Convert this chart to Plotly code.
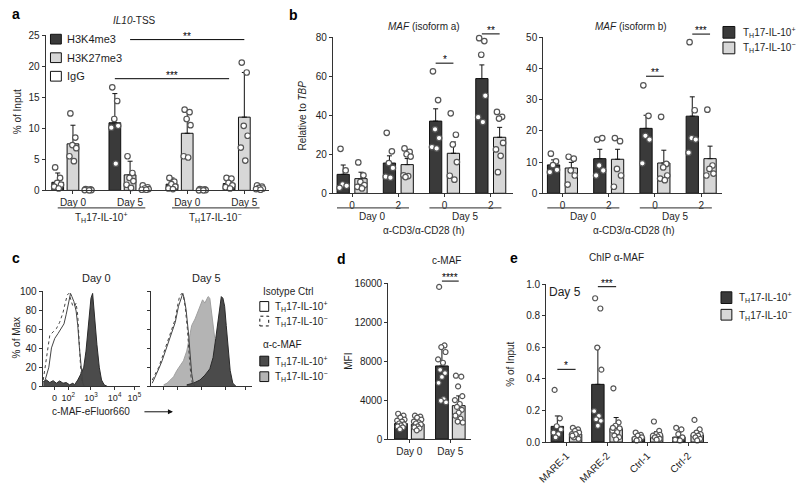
import plotly.graph_objects as go

# ------------------------------------------------------------------ data
TH_POS = "T<sub>H</sub>17-IL-10<sup>+</sup>"
TH_NEG = "T<sub>H</sub>17-IL-10<sup>−</sup>"

# panel a : IL10-TSS ChIP (% of input)
a_days = ["Day 0", "Day 5", "Day 0", "Day 5"]
a_cells = [TH_POS, TH_NEG]
a_marks = ["H3K4me3", "H3K27me3", "IgG"]
a_k4_mean = [1.3, 10.9, 1.0, 1.1]
a_k4_sd = [1.5, 4.7, 1.0, 0.9]
a_k4_pts = [[3.7, 2.0, 1.2, 0.9, 0.6, 0.3], [16.6, 14.4, 11.5, 10.4, 10.1, 4.3],
            [2.0, 1.4, 1.0, 0.6, 0.3, 0.2], [2.0, 1.9, 1.2, 0.8, 0.5, 0.3]]
a_k27_mean = [7.5, 2.5, 9.2, 11.8]
a_k27_sd = [3.0, 2.2, 3.6, 7.2]
a_k27_pts = [[12.4, 8.5, 7.3, 6.8, 5.5, 4.7], [5.5, 2.8, 2.0, 1.5, 0.9, 0.4],
             [13.0, 12.6, 11.5, 10.5, 5.5, 5.3], [20.6, 19.0, 10.4, 8.8, 6.9, 4.8]]
a_igg_mean = [0.1, 0.3, 0.1, 0.4]
a_igg_sd = [0.1, 0.3, 0.1, 0.3]
a_igg_pts = [[0.2, 0.15, 0.1, 0.05, 0.05, 0.0], [0.8, 0.5, 0.3, 0.2, 0.1, 0.1],
             [0.2, 0.15, 0.1, 0.05, 0.0, 0.0], [0.8, 0.6, 0.4, 0.3, 0.2, 0.1]]
# (mark index, group from, group to, stars, height)
a_sig = [(0, 1, 3, "***", 18.0), (1, 1, 3, "**", 24.3)]

# panel b : MAF expression relative to TBP
b_hours = ["0", "2", "0", "2"]
b_days = ["Day 0", "Day 5"]
ba_pos_mean = [9.7, 15.5, 37.0, 58.8]
ba_pos_sem = [4.8, 3.7, 6.3, 7.0]
ba_pos_pts = [[22.8, 11.7, 4.5, 3.8, 2.8], [31.0, 21.5, 15.5, 13.0, 8.5, 8.0],
              [62.5, 47.8, 32.8, 28.3, 23.7, 23.0], [79.5, 78.0, 71.0, 50.0, 39.0, 36.5]]
ba_neg_mean = [7.5, 14.7, 20.5, 28.7]
ba_neg_sem = [3.3, 3.1, 5.8, 5.1]
ba_neg_pts = [[15.8, 9.2, 5.8, 4.2, 3.3, 2.5], [23.0, 21.2, 20.0, 18.8, 9.2, 8.8, 8.3],
              [41.0, 30.0, 25.0, 16.0, 9.0, 7.0], [41.7, 39.2, 38.3, 25.8, 22.5, 19.2, 10.8]]
ba_sig = [(2, "*", 66.7), (3, "**", 81.7)]

bb_pos_mean = [9.1, 11.1, 20.8, 24.7]
bb_pos_sem = [1.6, 3.0, 4.2, 6.2]
bb_pos_pts = [[12.7, 10.2, 9.0, 7.5, 6.8], [17.2, 17.7, 8.9, 7.3, 5.7],
              [34.6, 24.8, 18.4, 17.2, 9.6], [48.4, 26.6, 17.7, 17.2, 13.0]]
bb_neg_mean = [8.1, 10.9, 9.7, 11.1]
bb_neg_sem = [1.8, 3.2, 4.1, 4.0]
bb_neg_pts = [[11.7, 11.1, 7.3, 5.7, 2.8], [17.7, 16.7, 7.8, 5.7, 2.1],
              [24.5, 9.4, 8.3, 5.7, 4.7, 4.2], [26.8, 8.9, 7.8, 6.3, 5.7]]
bb_sig = [(2, "**", 37.5), (3, "***", 51.0)]

# panel c : c-MAF histograms (channel position 0-100, % of max)
c_tickvals = [12.1, 26.3, 49.5, 73.7, 93.9]
c_ticktext = ["0", "10<sup>2</sup>", "10<sup>3</sup>", "10<sup>4</sup>", "10<sup>5</sup>"]
c0_iso_pos_x = [1.7, 3.7, 6.4, 9.1, 12.5, 15.8, 19.2, 21.9, 24.2, 26.6, 28.6, 30.0, 32.0, 34.3, 36.0, 37.7, 39.4, 41.1, 42.8]
c0_iso_pos_y = [3.4, 10.2, 20.3, 40.7, 50.8, 55.9, 61.0, 66.1, 76.3, 88.1, 98.3, 94.9, 89.8, 79.7, 64.4, 40.7, 16.9, 3.4, 0.0]
c0_iso_neg_x = [0.7, 3.0, 5.1, 7.4, 10.8, 14.1, 17.5, 20.9, 23.2, 25.3, 26.9, 28.6, 31.0, 32.7, 34.3, 36.0, 37.0, 38.7, 40.1]
c0_iso_neg_y = [6.8, 23.7, 40.7, 54.2, 57.6, 61.0, 67.8, 78.0, 88.1, 96.6, 98.3, 91.5, 84.7, 84.7, 88.1, 74.6, 50.8, 23.7, 3.4]
c0_maf_pos_x = [0.7, 4.0, 7.4, 10.8, 14.1, 17.5, 20.9, 24.2, 27.6, 31.0, 32.7, 36.0, 39.4, 42.1, 44.4, 46.1, 47.8,
                49.5, 51.2, 52.2, 53.5, 55.6, 58.0, 60.3, 63.0, 66.3]
c0_maf_pos_y = [5.1, 6.8, 4.1, 6.1, 3.4, 5.8, 3.4, 4.1, 1.7, 3.4, 1.7, 6.8, 13.6, 20.3, 37.3, 54.2, 74.6,
                93.2, 98.3, 84.7, 67.8, 44.1, 20.3, 6.8, 1.7, 0.0]
c5_iso_pos_x = [1.0, 4.2, 7.5, 10.8, 14.1, 17.3, 20.6, 23.9, 27.1, 29.4, 31.4, 32.7, 34.6, 36.9, 38.6, 40.2, 41.8, 43.5]
c5_iso_pos_y = [3.4, 10.2, 18.6, 27.1, 37.3, 47.5, 57.6, 67.8, 84.7, 93.2, 98.3, 93.2, 81.4, 57.6, 33.9, 13.6, 3.4, 0.0]
c5_iso_neg_x = [1.0, 4.2, 7.5, 10.8, 14.1, 17.3, 20.6, 23.9, 26.1, 28.1, 30.4, 32.0, 33.7, 35.9, 37.9, 39.5, 41.2]
c5_iso_neg_y = [6.8, 13.6, 20.3, 30.5, 40.7, 50.8, 61.0, 71.2, 84.7, 94.9, 98.3, 94.9, 84.7, 61.0, 30.5, 10.2, 1.7]
c5_maf_neg_x = [12.4, 15.7, 19.0, 22.2, 25.5, 28.8, 32.0, 35.3, 37.9, 40.2, 43.5, 45.8, 48.4, 51.0, 53.3, 54.9,
                56.5, 58.2, 60.8, 63.1, 66.3, 69.6, 72.9, 76.1, 78.4]
c5_maf_neg_y = [1.7, 3.4, 6.8, 10.2, 16.9, 22.0, 27.1, 37.3, 50.8, 64.4, 71.2, 78.0, 84.7, 91.5, 88.1, 91.5,
                94.9, 93.2, 67.8, 50.8, 33.9, 23.7, 10.2, 1.7, 0.0]
c5_maf_pos_x = [35.3, 41.8, 48.4, 53.3, 58.2, 61.4, 64.1, 66.3, 68.0, 69.6, 71.2, 72.9, 74.5, 76.1, 78.4, 81.0, 84.3]
c5_maf_pos_y = [1.7, 3.4, 6.8, 11.9, 18.6, 30.5, 50.8, 67.8, 84.7, 94.9, 93.2, 84.7, 64.4, 40.7, 16.9, 3.4, 0.0]

# panel d : c-MAF MFI
d_days = ["Day 0", "Day 5"]
d_pos_mean = [1600, 7500]
d_pos_sd = [570, 1930]
d_pos_pts = [[2600, 2400, 2200, 2000, 1900, 1800, 1600, 1500, 1400, 1300, 1200, 1000],
             [15600, 9600, 9430, 8930, 8170, 7830, 7100, 6770, 6370, 5770, 4100, 3930, 3770]]
d_neg_mean = [1530, 3430]
d_neg_sd = [570, 1000]
d_neg_pts = [[2400, 2300, 2200, 2000, 1800, 1700, 1600, 1500, 1300, 1200, 1100, 900],
             [6500, 6400, 5400, 4400, 4000, 3600, 3300, 3000, 2700, 2400, 2100, 1800, 1700]]
d_sig = [(1, "****", 16200)]

# panel e : ChIP alpha-MAF (% of input)
e_sites = ["MARE-1", "MARE-2", "Ctrl-1", "Ctrl-2"]
e_pos_mean = [0.099, 0.365, 0.031, 0.031]
e_pos_sd = [0.066, 0.233, 0.014, 0.031]
e_pos_pts = [[0.33, 0.15, 0.10, 0.08, 0.06, 0.05, 0.03],
             [0.91, 0.845, 0.598, 0.458, 0.196, 0.165, 0.144, 0.134, 0.103],
             [0.06, 0.045, 0.04, 0.03, 0.02, 0.015, 0.01],
             [0.09, 0.08, 0.05, 0.03, 0.015, 0.01]]
e_neg_mean = [0.05, 0.087, 0.041, 0.045]
e_neg_sd = [0.037, 0.068, 0.025, 0.027]
e_neg_pts = [[0.09, 0.08, 0.07, 0.06, 0.05, 0.04, 0.03, 0.02, 0.05, 0.04],
             [0.34, 0.124, 0.103, 0.087, 0.072, 0.062, 0.041, 0.031, 0.016, 0.09],
             [0.13, 0.07, 0.05, 0.045, 0.04, 0.035, 0.03, 0.02, 0.015],
             [0.14, 0.08, 0.06, 0.05, 0.045, 0.04, 0.03, 0.02, 0.01]]
e_sig = [(0, "*", 0.46), (1, "***", 0.983)]

# ------------------------------------------------------------------ style
W, H = 800, 489
FONT = "Liberation Sans, Arial, Helvetica, sans-serif"
TXT = "#1e1e1e"
EDGE = "#111111"
AXC = "#333333"
DARK = "#3a3a3a"
LIGHT = "#d7d7d7"
WHITE = "#ffffff"
PTC = "#555555"
HDARK = "#4b4b4b"
HLIGHT = "#b4b4b4"
JIT = [-0.22, 0.2, -0.05, 0.28, -0.3, 0.08, -0.14, 0.24, 0.0, -0.26, 0.14, -0.08, 0.32]


def fx(p):
    return p / W


def fy(p):
    return 1 - p / H


fig = go.Figure()
layout = dict(width=W, height=H, margin=dict(l=0, r=0, t=0, b=0), paper_bgcolor="white",
              plot_bgcolor="rgba(0,0,0,0)", showlegend=False, barmode="overlay",
              font=dict(family=FONT, size=10, color=TXT))
shapes, annots = [], []


def axis(n, box, xr, yr, **kw):
    x0, x1, y0, y1 = box
    common = dict(showline=True, linecolor=AXC, linewidth=1, ticks="outside", ticklen=3, tickwidth=1,
                  tickcolor=AXC, tickfont=dict(size=10, color=TXT, family=FONT), showgrid=False,
                  zeroline=False, fixedrange=True)
    xk = "xaxis" if n == 1 else f"xaxis{n}"
    yk = "yaxis" if n == 1 else f"yaxis{n}"
    xd = dict(common, domain=[fx(x0), fx(x1)], range=xr, anchor="y" if n == 1 else f"y{n}")
    yd = dict(common, domain=[fy(y1), fy(y0)], range=yr, anchor="x" if n == 1 else f"x{n}")
    xd.update(kw.get("x", {}))
    yd.update(kw.get("y", {}))
    layout[xk] = xd
    layout[yk] = yd


def ids(n):
    return ("x", "y") if n == 1 else (f"x{n}", f"y{n}")


def add_bars(n, xs, means, errs, pts, fill, bw, msize):
    xa, ya = ids(n)
    fig.add_trace(go.Bar(x=xs, y=means, width=bw, xaxis=xa, yaxis=ya, hoverinfo="skip",
                         marker=dict(color=fill, line=dict(color=EDGE, width=1)),
                         error_y=dict(type="data", array=errs, arrayminus=[0] * len(errs), symmetric=False,
                                      color=EDGE, thickness=1, width=2.5)))
    px_, py_ = [], []
    for x, p in zip(xs, pts):
        for k, v in enumerate(p):
            px_.append(x + JIT[k % len(JIT)] * bw)
            py_.append(v)
    fig.add_trace(go.Scatter(x=px_, y=py_, mode="markers", xaxis=xa, yaxis=ya, cliponaxis=False,
                             hoverinfo="skip",
                             marker=dict(size=msize, color=WHITE, line=dict(color=PTC, width=1.2))))


def add_sig(n, x0, x1, v, ymax, label):
    xa, ya = ids(n)
    yd = ya + " domain"
    shapes.append(dict(type="line", xref=xa, yref=yd, x0=x0, x1=x1, y0=v / ymax, y1=v / ymax,
                       line=dict(color="#000000", width=1)))
    annots.append(dict(xref=xa, yref=yd, x=(x0 + x1) / 2, y=v / ymax, text=label, showarrow=False,
                       yanchor="bottom", yshift=-4, font=dict(size=10, color="#000000")))


def text(t, x, y, size=10, xanchor="center", angle=0, xref="paper", color=TXT):
    annots.append(dict(xref=xref, yref="paper", x=x if xref != "paper" else fx(x), y=fy(y), text=t,
                       showarrow=False, xanchor=xanchor, yanchor="middle", textangle=angle,
                       font=dict(size=size, color=color, family=FONT)))


def hline(xref, x0, x1, y):
    shapes.append(dict(type="line", xref=xref, yref="paper", x0=x0, x1=x1, y0=fy(y), y1=fy(y),
                       line=dict(color="#555555", width=1.2)))


def square(x0, y0, x1, y1, fill, dash="solid"):
    shapes.append(dict(type="rect", xref="paper", yref="paper", x0=fx(x0), x1=fx(x1), y0=fy(y1), y1=fy(y0),
                       fillcolor=fill, line=dict(color=EDGE, width=1, dash=dash)))


# ------------------------------------------------------------------ panel a
A_STEP = 3.75
a_centers = [g * A_STEP for g in range(4)]
axis(1, (37, 263, 30, 189), [-1.8, 12.85], [0, 25],
     x=dict(tickvals=a_centers, ticktext=a_days),
     y=dict(tickvals=[0, 5, 10, 15, 20, 25]))
a_means = [a_k4_mean, a_k27_mean, a_igg_mean]
a_errs = [a_k4_sd, a_k27_sd, a_igg_sd]
a_pts = [a_k4_pts, a_k27_pts, a_igg_pts]
a_fill = [DARK, LIGHT, WHITE]
for s in range(3):
    add_bars(1, [c + s - 1 for c in a_centers], a_means[s], a_errs[s], a_pts[s], a_fill[s], 0.77, 5.5)
for s, g0, g1, lab, v in a_sig:
    add_sig(1, a_centers[g0] + s - 1, a_centers[g1] + s - 1, v, 25, lab)
for k in range(2):
    x0 = a_centers[2 * k] - 1
    x1 = a_centers[2 * k + 1] + 1
    hline("x", x0, x1, 207)
    text(a_cells[k], (x0 + x1) / 2, 217, xref="x")
text("<i>IL10</i>-TSS", 127, 15)
text("% of Input", 8, 108, angle=-90)
for i, (lab, fill) in enumerate(zip(a_marks, a_fill)):
    yc = [34, 53, 72][i]
    square(42, yc - 5, 53, yc + 5, fill)
    text(lab, 57, yc, size=11, xanchor="left")

# ------------------------------------------------------------------ panel b
B_STEP = 2.6
b_centers = [g * B_STEP for g in range(4)]
for n, box, xr, ymax, yt, title, tx, pm, ps, pp, nm, ns, nptz, sig in [
    (2, (328, 510, 32, 192), [-1.08, 9.03], 80, [0, 20, 40, 60, 80], "<i>MAF</i> (isoform a)", 420,
     ba_pos_mean, ba_pos_sem, ba_pos_pts, ba_neg_mean, ba_neg_sem, ba_neg_pts, ba_sig),
    (3, (541, 722, 32, 192), [-1.08, 8.97], 50, [0, 10, 20, 30, 40, 50], "<i>MAF</i> (isoform b)", 630,
     bb_pos_mean, bb_pos_sem, bb_pos_pts, bb_neg_mean, bb_neg_sem, bb_neg_pts, bb_sig)]:
    axis(n, box, xr, [0, ymax], x=dict(tickvals=b_centers, ticktext=b_hours), y=dict(tickvals=yt))
    add_bars(n, [c - 0.5 for c in b_centers], pm, ps, pp, DARK, 0.69, 5.5)
    add_bars(n, [c + 0.5 for c in b_centers], nm, ns, nptz, LIGHT, 0.69, 5.5)
    for g, lab, v in sig:
        add_sig(n, b_centers[g] - 0.5, b_centers[g] + 0.5, v, ymax, lab)
    xa = ids(n)[0]
    for k in range(2):
        x0 = b_centers[2 * k] - 0.85
        x1 = b_centers[2 * k + 1] + 0.6
        hline(xa, x0, x1, 207)
        text(b_days[k], (x0 + x1) / 2, 216, xref=xa)
    text("α-CD3/α-CD28 (h)", (box[0] + box[1]) / 2 + 1, 230)
    text(title, tx, 21)
text("Relative to <i>TBP</i>", 297, 112, angle=-90)
square(723, 21, 735, 33, DARK)
square(723, 37, 735, 49, LIGHT)
text(TH_POS, 741, 27, xanchor="left")
text(TH_NEG, 741, 43, xanchor="left")

# ------------------------------------------------------------------ panel c
axis(4, (34, 133, 292, 390), [0, 100], [0, 101],
     x=dict(tickvals=c_tickvals, ticktext=c_ticktext, tickfont=dict(size=9, color=TXT, family=FONT)),
     y=dict(tickvals=[0, 20, 40, 60, 80, 100]))
axis(5, (144, 246, 292, 390), [0, 100], [0, 101],
     x=dict(tickvals=c_tickvals, showticklabels=False),
     y=dict(tickvals=[0, 20, 40, 60, 80, 100], showticklabels=False))


def hist(n, xs, ys, fill, line, dash="solid", filled=True):
    xa, ya = ids(n)
    fig.add_trace(go.Scatter(x=xs, y=ys, mode="lines", xaxis=xa, yaxis=ya, hoverinfo="skip",
                             fill="tozeroy" if filled else None, fillcolor=fill,
                             line=dict(color=line, width=1, dash=dash)))


hist(4, c0_maf_pos_x, c0_maf_pos_y, HDARK, "#2a2a2a")
hist(4, c0_iso_pos_x, c0_iso_pos_y, None, "#444444", filled=False)
hist(4, c0_iso_neg_x, c0_iso_neg_y, None, "#444444", dash="dot", filled=False)
hist(5, c5_maf_neg_x, c5_maf_neg_y, HLIGHT, "#a0a0a0")
hist(5, c5_maf_pos_x, c5_maf_pos_y, HDARK, "#2a2a2a")
hist(5, c5_iso_pos_x, c5_iso_pos_y, None, "#444444", filled=False)
hist(5, c5_iso_neg_x, c5_iso_neg_y, None, "#444444", dash="dot", filled=False)
text("Day 0", 89, 279, size=11)
text("Day 5", 200, 279, size=11)
text("% of Max", 8, 340, angle=-90)
text("c-MAF-eFluor660", 83, 416)
annots.append(dict(xref="paper", yref="paper", x=fx(166), y=fy(416), ax=-30, ay=0, text="",
                   showarrow=True, arrowhead=2, arrowsize=1, arrowwidth=1, arrowcolor=EDGE,
                   standoff=0, startstandoff=0))
text("Isotype Ctrl", 255, 293, xanchor="left")
square(254, 303, 263, 313, WHITE)
square(254, 318, 263, 328, WHITE, dash="dot")
text(TH_POS, 267, 308, xanchor="left")
text(TH_NEG, 267, 323, xanchor="left")
text("α-c-MAF", 255, 347, xanchor="left")
square(254, 359, 263, 369, HDARK)
square(254, 375, 263, 385, HLIGHT)
text(TH_POS, 267, 364, xanchor="left")
text(TH_NEG, 267, 380, xanchor="left")

# ------------------------------------------------------------------ panel d
D_STEP = 2.44
d_centers = [g * D_STEP for g in range(2)]
axis(6, (384, 468, 284, 444), [-1.26, 3.68], [0, 16000],
     x=dict(tickvals=d_centers, ticktext=d_days),
     y=dict(tickvals=[0, 4000, 8000, 12000, 16000], tickformat="d"))
add_bars(6, [c - 0.5 for c in d_centers], d_pos_mean, d_pos_sd, d_pos_pts, DARK, 0.76, 5)
add_bars(6, [c + 0.5 for c in d_centers], d_neg_mean, d_neg_sd, d_neg_pts, LIGHT, 0.76, 5)
for g, lab, v in d_sig:
    add_sig(6, d_centers[g] - 0.5, d_centers[g] + 0.5, v, 16000, lab)
text("c-MAF", 443, 261)
text("MFI", 343, 364, angle=-90)

# ------------------------------------------------------------------ panel e
E_STEP = 2.22
e_centers = [g * E_STEP for g in range(4)]
axis(7, (544, 708, 285, 447), [-1.11, 7.76], [0, 1.0],
     x=dict(tickvals=e_centers, ticktext=e_sites, tickangle=-45),
     y=dict(tickvals=[0, 0.2, 0.4, 0.6, 0.8, 1.0], tickformat=".1f"))
add_bars(7, [c - 0.5 for c in e_centers], e_pos_mean, e_pos_sd, e_pos_pts, DARK, 0.68, 5)
add_bars(7, [c + 0.5 for c in e_centers], e_neg_mean, e_neg_sd, e_neg_pts, LIGHT, 0.68, 5)
for g, lab, v in e_sig:
    add_sig(7, e_centers[g] - 0.5, e_centers[g] + 0.5, v, 1.0, lab)
text("ChIP α-MAF", 615, 258)
text("Day 5", 563, 293, size=12)
text("% of Input", 508, 367, angle=-90)
square(721, 293, 732, 305, DARK)
square(721, 311, 732, 322, LIGHT)
text(TH_POS, 737, 299, xanchor="left")
text(TH_NEG, 737, 317, xanchor="left")

# ------------------------------------------------------------------ panel letters
for lab, x, y in [("a", 7, 8), ("b", 288, 9), ("c", 7, 258), ("d", 337, 259), ("e", 511, 258)]:
    annots.append(dict(xref="paper", yref="paper", x=fx(x), y=fy(y), text=f"<b>{lab}</b>", showarrow=False,
                       xanchor="center", yanchor="middle", font=dict(size=14, color="#000", family=FONT)))

layout["shapes"] = shapes
layout["annotations"] = annots
fig.update_layout(**layout)
fig.write_html("out.html", config={"displayModeBar": False},
               post_script="document.body.style.margin='0px';document.body.style.padding='0px';"
                           "document.body.style.overflow='hidden';")
